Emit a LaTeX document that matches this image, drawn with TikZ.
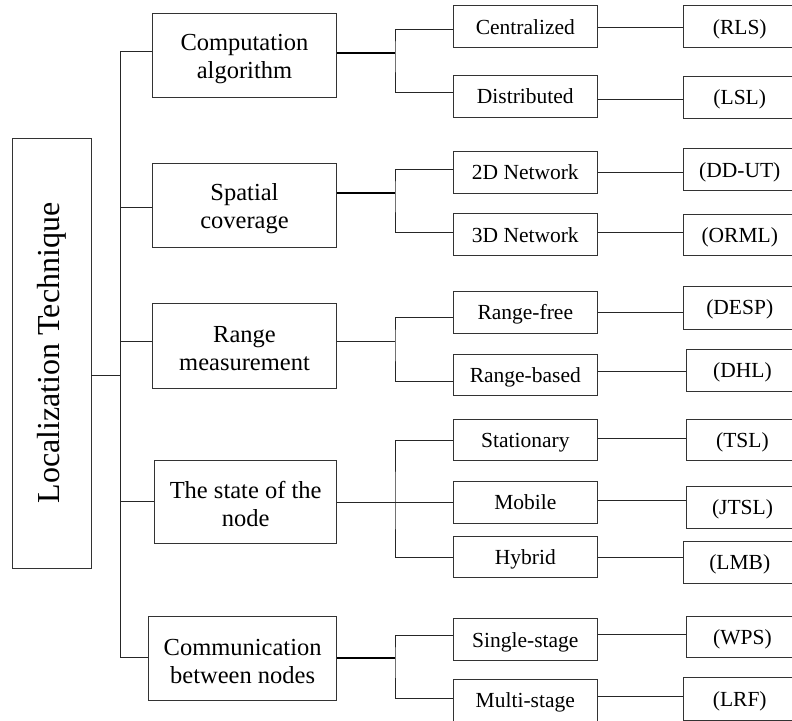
\documentclass[tikz,border=0pt]{standalone}
\usepackage{fontspec}
\setmainfont{Liberation Serif}
\newcommand{\toprule}{\rule{0pt}{22pt}}
\begin{document}
\begin{tikzpicture}[x=1pt,y=-1pt,
  box/.style={draw=black!80, line width=0.9pt, inner sep=0pt, align=center, text=black},
  leafbox/.style={box, font=\fontsize{21.5}{24.7}\selectfont, text height=18pt, text depth=3.3pt,
                  minimum height=41.5pt},
  midbox/.style={leafbox, minimum width=144pt},
  refbox/.style={leafbox, anchor=west, minimum width=112pt},
  mainbox/.style={box, font=\fontsize{24.5}{28}\selectfont},
  link/.style={draw=black!85, line width=0.9pt},
  heavy/.style={draw=black, line width=1.9pt}]
\useasboundingbox (0,0) rectangle (792,720);

% root
\node[box, minimum width=78.5pt, minimum height=430pt, font=\fontsize{32}{36}\selectfont]
  (root) at (51.7,353) {\rotatebox{90}{Localization Technique}};

% first level
\node[mainbox, minimum width=184pt, minimum height=84pt] (L1) at (244.5,55.7) {\toprule Computation\\algorithm};
\node[mainbox, minimum width=184pt, minimum height=84pt] (L2) at (244.5,205.7) {\toprule Spatial\\coverage};
\node[mainbox, minimum width=184pt, minimum height=84.3pt] (L3) at (244.5,345.85) {\toprule Range\\measurement};
\node[mainbox, minimum width=181.8pt, minimum height=83pt] (L4) at (245.6,501.8) {\toprule The state of the\\node};
\node[mainbox, minimum width=187.8pt, minimum height=84pt] (L5) at (242.6,658.3) {\toprule Communication\\between nodes};

% second level
\node[midbox] (C)  at (525.3,26.65)  {Centralized};
\node[midbox] (D)  at (525.3,96.5)   {Distributed};
\node[midbox] (N2) at (525.3,172.3)  {2D Network};
\node[midbox] (N3) at (525.3,234.65) {3D Network};
\node[midbox] (RF) at (525.3,312.5)  {Range-free};
\node[midbox] (RB) at (525.3,374.85) {Range-based};
\node[midbox] (ST) at (525.3,440.15) {Stationary};
\node[midbox] (MO) at (525.3,502.5)  {Mobile};
\node[midbox] (HY) at (525.3,557.15) {Hybrid};
\node[midbox] (SI) at (525.3,639.65) {Single-stage};
\node[midbox, minimum height=42pt] (MU) at (525.3,700) {Multi-stage};

% third level
\node[refbox] (RLS)  at (683.3,26.65)  {(RLS)};
\node[refbox] (LSL)  at (683.3,97.5)   {(LSL)};
\node[refbox, minimum height=42pt] (DDUT) at (683.3,169.7) {(DD-UT)};
\node[refbox] (ORML) at (683.3,234.85) {(ORML)};
\node[refbox, minimum height=43pt] (DESP) at (683.3,307.5) {(DESP)};
\node[refbox, minimum height=42pt] (DHL)  at (686,370) {(DHL)};
\node[refbox] (TSL)  at (686,440.15)   {(TSL)};
\node[refbox] (JTSL) at (686,507.5)    {(JTSL)};
\node[refbox, minimum height=42.3pt] (LMB) at (683.3,562.15) {(LMB)};
\node[refbox] (WPS)  at (686,637)      {(WPS)};
\node[refbox, minimum height=43pt] (LRF) at (683.3,699) {(LRF)};

% trunk
\coordinate (t0)   at (120.5,375);
\coordinate (ttop) at (120.5,51.3);
\coordinate (tbot) at (120.5,657.7);
\draw[link] (root.east |- t0) -- (t0);
\draw[link] (ttop) -- (tbot);
\draw[link] (ttop) -- (L1.west |- ttop);
\draw[link] ([yshift=-1.3pt]L2.west -| ttop) -- ([yshift=-1.3pt]L2.west);
\draw[link] ([yshift=4pt]L3.west -| ttop) -- ([yshift=4pt]L3.west);
\draw[link] (L4.west -| ttop) -- (L4.west);
\draw[link] (tbot) -- (L5.west |- tbot);

% junctions of the second level
\coordinate (g1) at (395,52.7);
\coordinate (g2) at (395,192.7);
\coordinate (g3) at (395,341.7);
\coordinate (g4) at (395,502);
\coordinate (g5) at (395,658.3);

\draw[heavy] (L1.east |- g1) -- (g1);
\draw[heavy] (L2.east |- g2) -- (g2);
\draw[link]  (L3.east |- g3) -- (g3);
\draw[link]  (L4.east |- g4) -- (g4);
\draw[heavy] (L5.east |- g5) -- (g5);

\draw[link] ([yshift=-2.6pt]C.west) -| (g1) |- ([yshift=3.8pt]D.west);
\draw[link] ([yshift=3pt]N2.west) -| (g2) |- ([yshift=2pt]N3.west);
\draw[link] ([yshift=-4.8pt]RF.west) -| (g3) |- ([yshift=-7pt]RB.west);
\draw[link] (ST.west) -| (g4) |- (HY.west);
\draw[link] (g4) -- (MO.west -| g4) -- (MO.west);
\draw[link] ([yshift=4.6pt]SI.west) -| (g5) |- ([yshift=1.7pt]MU.west);

% second to third level
\draw[link] ([yshift=-1pt]C.east) -- ([yshift=-1pt]C.east -| RLS.west);
\draw[link] ([yshift=-2.8pt]D.east) -- ([yshift=-2.8pt]D.east -| LSL.west);
\draw[link] (N2.east) -- (N2.east -| DDUT.west);
\draw[link] ([yshift=2.3pt]N3.east) -- ([yshift=2.3pt]N3.east -| ORML.west);
\draw[link] (RF.east) -- (RF.east -| DESP.west);
\draw[link] ([yshift=3.5pt]RB.east) -- ([yshift=3.5pt]RB.east -| DHL.west);
\draw[link] ([yshift=1.8pt]ST.east) -- ([yshift=1.8pt]ST.east -| TSL.west);
\draw[link] ([yshift=2.5pt]MO.east) -- ([yshift=2.5pt]MO.east -| JTSL.west);
\draw[link] (HY.east) -- (HY.east -| LMB.west);
\draw[link] ([yshift=5.3pt]SI.east) -- ([yshift=5.3pt]SI.east -| WPS.west);
\draw[link] ([yshift=3.7pt]MU.east) -- ([yshift=3.7pt]MU.east -| LRF.west);
\end{tikzpicture}
\end{document}
